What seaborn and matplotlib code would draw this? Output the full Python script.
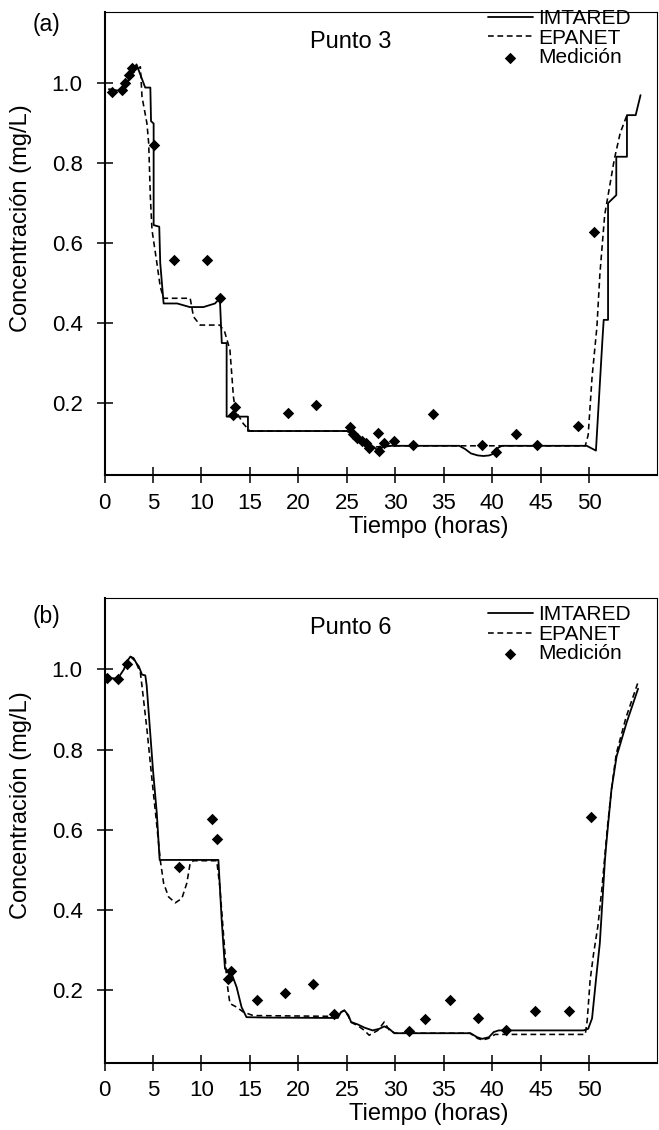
import matplotlib
matplotlib.use('Agg')
import matplotlib.pyplot as plt
import seaborn as sns

# Panel (a) - Punto 3
imt_a_t = [0.45, 1.8, 2.3, 3.3, 4.2, 4.73, 4.8, 5.07, 5.07, 5.65, 5.75, 6.1, 7.5, 8.8, 10.2, 11.4,
           11.9, 12.1, 12.6, 12.6, 14.8, 14.8, 25.0, 25.4, 26.0, 26.6, 27.2, 27.8, 28.1, 28.8, 29.5,
           36.6, 37.2, 37.8, 38.5, 39.1, 39.7, 40.2, 40.6, 41.0, 49.75, 50.7, 51.35, 51.5, 51.95,
           51.95, 52.8, 52.8, 53.9, 53.9, 54.8, 55.3]
imt_a_c = [0.985, 0.98, 1.0, 1.047, 0.989, 0.989, 0.905, 0.899, 0.645, 0.641, 0.55, 0.449, 0.449,
           0.44, 0.44, 0.449, 0.462, 0.35, 0.35, 0.166, 0.166, 0.13, 0.13, 0.125, 0.115, 0.107,
           0.098, 0.09, 0.083, 0.09, 0.093, 0.093, 0.085, 0.074, 0.069, 0.0675, 0.069, 0.074, 0.088,
           0.093, 0.093, 0.081, 0.35, 0.408, 0.408, 0.70, 0.72, 0.816, 0.816, 0.92, 0.92, 0.97]

epa_a_t = [2.67, 3.7, 3.87, 4.38, 4.56, 4.73, 4.9, 5.41, 5.75, 6.1, 8.84, 9.18, 9.86, 11.9, 12.4,
           12.94, 13.3, 13.5, 14.3, 15.0, 25.0, 25.5, 26.1, 26.7, 27.3, 28.0, 29.0, 49.6, 49.9,
           50.3, 50.8, 51.1, 51.6, 52.1, 52.6, 53.2, 53.9]
epa_a_c = [1.02, 1.041, 0.966, 0.899, 0.849, 0.716, 0.633, 0.549, 0.491, 0.462, 0.462, 0.416,
           0.395, 0.395, 0.378, 0.333, 0.216, 0.182, 0.149, 0.13, 0.13, 0.123, 0.113, 0.105, 0.097,
           0.09, 0.093, 0.093, 0.12, 0.265, 0.39, 0.52, 0.67, 0.74, 0.81, 0.875, 0.92]

med_a_t = [0.79, 1.82, 2.1, 2.5, 2.8, 5.07, 7.13, 10.55, 11.9, 13.3, 13.5, 18.9, 21.8, 25.37, 25.6,
           26.0, 26.6, 26.98, 27.3, 28.24, 28.3, 28.8, 29.9, 31.8, 33.9, 38.9, 40.4, 42.5, 44.6,
           48.8, 50.5]
med_a_c = [0.978, 0.983, 1.0, 1.02, 1.037, 0.845, 0.5575, 0.5575, 0.462, 0.17, 0.19, 0.174, 0.195,
           0.141, 0.1225, 0.112, 0.106, 0.099, 0.087, 0.124, 0.081, 0.101, 0.105, 0.095, 0.172,
           0.095, 0.078, 0.1225, 0.095, 0.1425, 0.627]

# Panel (b) - Punto 6
imt_b_t = [0.2, 1.37, 2.0, 2.33, 2.67, 3.0, 3.3, 3.53, 3.87, 4.21, 4.35, 5.0, 5.4, 5.69, 11.75,
           12.09, 12.43, 13.1, 13.63, 14.14, 14.65, 16.7, 24.07, 24.41, 24.75, 25.16, 25.44, 26.12,
           26.81, 27.66, 28.35, 28.86, 29.37, 29.89, 37.76, 38.45, 38.96, 39.65, 40.16, 40.67,
           49.4, 49.9, 50.3, 50.77, 51.1, 51.63, 51.73, 51.97, 52.3, 52.83, 53.86, 55.05]
imt_b_c = [0.979, 0.977, 1.0, 1.02, 1.032, 1.028, 1.015, 1.008, 0.987, 0.985, 0.96, 0.75, 0.64,
           0.525, 0.525, 0.375, 0.254, 0.242, 0.208, 0.158, 0.133, 0.132, 0.131, 0.146, 0.15,
           0.138, 0.121, 0.115, 0.107, 0.1, 0.104, 0.11, 0.104, 0.093, 0.093, 0.083, 0.079, 0.083,
           0.096, 0.1, 0.1, 0.104, 0.13, 0.242, 0.317, 0.525, 0.554, 0.617, 0.70, 0.783, 0.867,
           0.952]

epa_b_t = [2.67, 3.2, 3.7, 3.87, 4.38, 4.9, 5.41, 5.75, 6.1, 6.61, 7.3, 7.98, 8.49, 8.84, 9.18,
           11.58, 11.9, 12.43, 12.6, 12.94, 13.63, 14.31, 15.34, 24.0, 24.4, 24.75, 25.16, 25.44,
           26.12, 26.81, 27.3, 28.2, 28.86, 29.4, 30.0, 37.7, 38.5, 39.0, 39.6, 40.3, 49.6, 49.8,
           50.1, 50.45, 50.9, 51.3, 51.6, 51.9, 52.3, 52.8, 53.8, 55.0]
epa_b_c = [1.032, 1.02, 0.992, 0.958, 0.85, 0.725, 0.608, 0.525, 0.467, 0.433, 0.418, 0.429,
           0.467, 0.517, 0.523, 0.523, 0.458, 0.292, 0.225, 0.167, 0.158, 0.146, 0.137, 0.135,
           0.145, 0.15, 0.135, 0.12, 0.112, 0.1, 0.088, 0.1, 0.121, 0.1, 0.093, 0.093, 0.08,
           0.076, 0.08, 0.09, 0.09, 0.125, 0.225, 0.29, 0.36, 0.45, 0.53, 0.61, 0.70, 0.79, 0.88,
           0.965]

med_b_t = [0.21, 1.37, 2.33, 7.64, 11.06, 11.64, 12.77, 13.1, 15.7, 18.66, 21.5, 23.66, 31.43,
           33.04, 35.64, 38.51, 41.46, 44.44, 47.93, 50.19]
med_b_c = [0.979, 0.977, 1.013, 0.508, 0.628, 0.578, 0.227, 0.248, 0.176, 0.193, 0.215, 0.142,
           0.098, 0.1275, 0.175, 0.131, 0.102, 0.148, 0.148, 0.633]

x_ticks = [0, 5, 10, 15, 20, 25, 30, 35, 40, 45, 50]
y_ticks = [0.2, 0.4, 0.6, 0.8, 1.0]

sns.set_style('ticks')
plt.rcParams['font.family'] = ['Liberation Sans', 'DejaVu Sans']
plt.rcParams['text.color'] = 'black'
plt.rcParams['axes.labelcolor'] = 'black'
plt.rcParams['xtick.color'] = 'black'
plt.rcParams['ytick.color'] = 'black'

W, H = 659, 1130
fig = plt.figure(figsize=(W / 100, H / 100), dpi=100)
ax_a = fig.add_axes([104.5 / W, 1 - 475 / H, 552.5 / W, 463 / H])
ax_b = fig.add_axes([104.5 / W, 1 - 1062.5 / H, 552.5 / W, 464.5 / H])


def draw_panel(ax, imt_t, imt_c, epa_t, epa_c, med_t, med_c, title, leg_y):
    sns.lineplot(x=imt_t, y=imt_c, sort=False, estimator=None, color='black', lw=1.3,
                 label='IMTARED', ax=ax)
    sns.lineplot(x=epa_t, y=epa_c, sort=False, estimator=None, color='black', lw=1.15,
                 linestyle=(0, (3.6, 2.3)), label='EPANET', ax=ax)
    sns.scatterplot(x=med_t, y=med_c, marker='D', s=34, color='black', edgecolor='black',
                    linewidth=0, label='Medición', ax=ax, zorder=3)

    ax.set_xlim(0, 57)
    ax.set_ylim(0.02, 1.178)
    ax.set_xticks(x_ticks)
    ax.set_xticklabels([str(v) for v in x_ticks])
    ax.set_yticks(y_ticks)
    ax.set_yticklabels([f'{v:.1f}' for v in y_ticks])
    ax.tick_params(axis='both', direction='inout', length=11.5, width=1.1, colors='black',
                   labelsize=16)
    ax.tick_params(axis='y', pad=10)
    ax.tick_params(axis='x', pad=7)

    for side in ['left', 'bottom']:
        ax.spines[side].set_linewidth(1.5)
    for side in ['top', 'right']:
        ax.spines[side].set_linewidth(0.8)
    for sp in ax.spines.values():
        sp.set_color('black')

    ax.set_xlabel('Tiempo (horas)', fontsize=17)
    ax.xaxis.set_label_coords(0.587, -0.088)
    yl = ax.set_ylabel('Concentración (mg/L)', fontsize=17)
    yl.set_va('center')
    ax.yaxis.set_label_coords(-0.152, 0.555)

    ax.text(0.446, 0.935, title, transform=ax.transAxes, ha='center', va='center', fontsize=17)

    handles, labels = ax.get_legend_handles_labels()
    leg = ax.legend(handles, labels, loc='upper left', bbox_to_anchor=(0.694, leg_y),
                    frameon=False, fontsize=15, handlelength=2.15, handletextpad=0.25,
                    labelspacing=0.02, borderpad=0, borderaxespad=0, scatterpoints=1)
    for txt in leg.get_texts():
        txt.set_color('black')


draw_panel(ax_a, imt_a_t, imt_a_c, epa_a_t, epa_a_c, med_a_t, med_a_c, 'Punto 3', 1.006)
draw_panel(ax_b, imt_b_t, imt_b_c, epa_b_t, epa_b_c, med_b_t, med_b_c, 'Punto 6', 0.984)

fig.text(47 / W, 1 - 25 / H, '(a)', ha='center', va='center', fontsize=16.5)
fig.text(47 / W, 1 - 616 / H, '(b)', ha='center', va='center', fontsize=16.5)

fig.savefig('out.png', dpi=100)
